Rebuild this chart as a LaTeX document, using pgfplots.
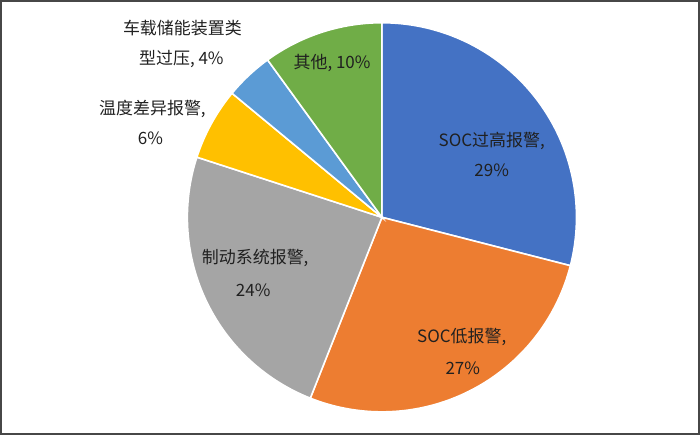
\documentclass[border=0pt]{standalone}
\usepackage{pgfplots}
\usepackage{pgfplotstable}
\pgfplotsset{compat=1.18}
\usepackage{fontspec}
\setmainfont{Noto Sans CJK SC}

\definecolor{cBlue}{HTML}{4472C4}
\definecolor{cOrange}{HTML}{ED7D31}
\definecolor{cGray}{HTML}{A5A5A5}
\definecolor{cYellow}{HTML}{FFC000}
\definecolor{cLightBlue}{HTML}{5B9BD5}
\definecolor{cGreen}{HTML}{70AD47}
\definecolor{labeltext}{HTML}{202020}

% share of each alarm type, percent, clockwise from 12 o'clock
\pgfplotstableread{
slice share
1 29
2 27
3 24
4 6
5 4
6 10
}\shares

\newcommand\getshare[2]{\pgfplotstablegetelem{#1}{share}\of\shares\let#2\pgfplotsretval}
\getshare{0}\sA \getshare{1}\sB \getshare{2}\sC
\getshare{3}\sD \getshare{4}\sE \getshare{5}\sF
% cumulative angles
\pgfmathsetmacro\aA{90-3.6*\sA}
\pgfmathsetmacro\aB{\aA-3.6*\sB}
\pgfmathsetmacro\aC{\aB-3.6*\sC}
\pgfmathsetmacro\aD{\aC-3.6*\sD}
\pgfmathsetmacro\aE{\aD-3.6*\sE}
\pgfmathsetmacro\aF{\aE-3.6*\sF}

% centre and radius in pixel units
\def\cx{382}\def\cy{217}\def\rr{195}

\pgfplotsset{
  slice/.style={draw=white, line width=1.6pt, samples=90, variable=\t},
}
\newcommand\slice[3]{%
  \addplot[slice, fill=#1, domain=#3:#2]
    ({\cx+\rr*cos(\t)},{\cy+\rr*sin(\t)}) -- (axis cs:\cx,\cy) -- cycle;}

\begin{document}
\begin{tikzpicture}
\begin{axis}[
  width=700pt, height=434pt, scale only axis,
  xmin=0, xmax=700, ymin=0, ymax=434,
  xtick=\empty, ytick=\empty,
  axis line style={line width=1.6pt, draw=black!72},
  clip=false,
  nodes={font=\fontsize{17}{20}\selectfont, text=labeltext, anchor=center, inner sep=0pt},
]
\slice{cBlue}{90}{\aA}
\slice{cOrange}{\aA}{\aB}
\slice{cGray}{\aB}{\aC}
\slice{cYellow}{\aC}{\aD}
\slice{cLightBlue}{\aD}{\aE}
\slice{cGreen}{\aE}{\aF}

\node at (axis cs:492,294) {SOC过高报警,};
\node at (axis cs:492,264) {29\%};
\node at (axis cs:462,97) {SOC低报警,};
\node at (axis cs:463,66) {27\%};
\node at (axis cs:255,176) {制动系统报警,};
\node at (axis cs:253,144) {24\%};
\node at (axis cs:152,326) {温度差异报警,};
\node at (axis cs:150,296) {6\%};
\node at (axis cs:182,407) {车载储能装置类};
\node at (axis cs:181,376) {型过压, 4\%};
\node at (axis cs:332,372) {其他, 10\%};
\end{axis}
\end{tikzpicture}
\end{document}
